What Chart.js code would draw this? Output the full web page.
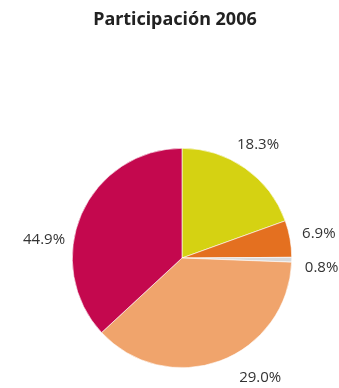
<!DOCTYPE html>
<html>
<head>
<meta charset="utf-8">
<script src="https://cdn.jsdelivr.net/npm/chart.js@4"></script>
<style>
    html, body { margin: 0; padding: 0; background: #fff; }
    #wrap { width: 339px; height: 388px; }
</style>
</head>
<body>
<div id="wrap"><canvas id="pie" width="339" height="388"></canvas></div>
<script>
// ==================== DATA ====================
const chartTitle = 'Participación 2006';
const categories = ['A', 'B', 'C', 'D', 'E'];
// arc sizes as drawn in the picture (share, in %)
const drawnShare = [19.5, 5.4, 0.7, 37.5, 36.9];
// values printed next to the slices
const printedValues = [18.3, 6.9, 0.8, 29.0, 44.9];
const sliceColors = ['#d5d212', '#e47020', '#d9d9d9', '#f0a46c', '#c4084e'];

// ==================== LABELS ====================
const sliceLabels = {
    id: 'sliceLabels',
    afterDraw(chart) {
        const ctx = chart.ctx;
        const arc = chart.getDatasetMeta(0).data[0];
        const cx = arc.x, cy = arc.y, r = arc.outerRadius;
        const total = printedValues.reduce((a, b) => a + b, 0);
        let acc = 0;

        ctx.save();
        ctx.font = '15px "Open Sans", sans-serif';
        ctx.fillStyle = '#333';
        ctx.textAlign = 'center';
        ctx.textBaseline = 'middle';
        printedValues.forEach(v => {
            const mid = (acc + v / 2) / total * Math.PI * 2;
            acc += v;
            const x = cx + Math.sin(mid) * (r + 30);
            const y = cy - Math.cos(mid) * (r + 30) + 4;
            ctx.fillText(v.toFixed(1) + '%', x, y);
        });

        // title
        ctx.font = 'bold 18px "Noto Sans", sans-serif';
        ctx.fillStyle = '#222';
        ctx.fillText(chartTitle, 175, 20);
        ctx.restore();
    }
};

new Chart(document.getElementById('pie'), {
    type: 'pie',
    data: {
        labels: categories,
        datasets: [{
            data: drawnShare,
            backgroundColor: sliceColors,
            borderColor: '#ffffff',
            borderWidth: 0.6
        }]
    },
    options: {
        responsive: false,
        animation: false,
        layout: { padding: { left: 72, right: 47, top: 148, bottom: 20 } },
        plugins: {
            legend: { display: false },
            tooltip: { enabled: false },
            title: { display: false }
        }
    },
    plugins: [sliceLabels]
});
</script>
</body>
</html>
